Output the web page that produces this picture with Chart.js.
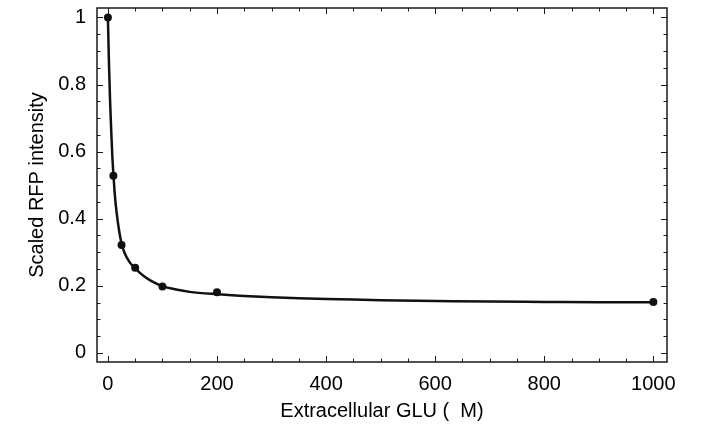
<!DOCTYPE html>
<html>
<head>
<meta charset="utf-8">
<script src="https://cdn.jsdelivr.net/npm/chart.js@4/dist/chart.umd.min.js"></script>
<style>
  html, body { margin: 0; padding: 0; background: #fff; }
  #wrap { width: 702px; height: 433px; }
</style>
</head>
<body>
<div id="wrap"><canvas id="c" width="702" height="433"></canvas></div>
<script>
// Measured glutamate concentrations (µM) and scaled RFP intensity
const concentrations = [0, 10, 25, 50, 100, 200, 1000];
const intensities = [1.0, 0.528, 0.322, 0.254, 0.198, 0.181, 0.152];

// Fitted response curve, sampled along the concentration axis
const fitX = [0, 2, 4, 6, 8, 10, 13, 16, 20, 25, 30, 40, 50, 65, 80, 100, 125, 150, 200, 250, 300, 350, 400, 450, 500, 600, 700, 800, 900, 1000];
const fitY = [1.0, 0.86, 0.75, 0.665, 0.59, 0.535, 0.465, 0.418, 0.37, 0.326, 0.30, 0.27, 0.252, 0.23, 0.214, 0.199, 0.189, 0.182, 0.175, 0.17, 0.166, 0.163, 0.161, 0.159, 0.157, 0.155, 0.153, 0.152, 0.151, 0.151];

// Axis tick labels and tick-mark positions
const xTickLabels = [0, 200, 400, 600, 800, 1000];
const yTickLabels = [0, 0.2, 0.4, 0.6, 0.8, 1];
const xTickMarks = [0, 50, 100, 150, 200, 250, 300, 350, 400, 450, 500, 550, 600, 650, 700, 750, 800, 850, 900, 950, 1000];
const yTickMarks = [0, 0.05, 0.1, 0.15, 0.2, 0.25, 0.3, 0.35, 0.4, 0.45, 0.5, 0.55, 0.6, 0.65, 0.7, 0.75, 0.8, 0.85, 0.9, 0.95, 1];
const xMajor = 200;
const yMajor = 0.2;

const FONT = "'Liberation Sans', Arial, Helvetica, sans-serif";

// Box frame with inward tick marks on all four sides
const frameTicks = {
  id: 'frameTicks',
  beforeDatasetsDraw(chart) {
    const { ctx, chartArea: a, scales: { x, y } } = chart;
    ctx.save();
    ctx.strokeStyle = '#1a1a1a';
    ctx.lineWidth = 1;
    const seg = (x1, y1, x2, y2) => { ctx.beginPath(); ctx.moveTo(x1, y1); ctx.lineTo(x2, y2); ctx.stroke(); };
    xTickMarks.forEach(v => {
      const px = Math.round(x.getPixelForValue(v)) + 0.5;
      const major = Math.abs(v / xMajor - Math.round(v / xMajor)) < 1e-6;
      const len = major ? 6 : 3.5;
      seg(px, a.bottom, px, a.bottom - len);
      seg(px, a.top, px, a.top + len);
    });
    yTickMarks.forEach(v => {
      const py = Math.round(y.getPixelForValue(v)) + 0.5;
      const major = Math.abs(v / yMajor - Math.round(v / yMajor)) < 1e-6;
      const len = major ? 6 : 3.5;
      seg(a.left, py, a.left + len, py);
      seg(a.right, py, a.right - len, py);
    });
    ctx.lineWidth = 1.5;
    ctx.strokeRect(a.left, a.top, a.right - a.left, a.bottom - a.top);
    ctx.restore();
  }
};

new Chart(document.getElementById('c'), {
  type: 'scatter',
  data: {
    datasets: [
      {
        label: 'fit',
        data: fitX.map((v, i) => ({ x: v, y: fitY[i] })),
        showLine: true,
        borderColor: '#111',
        borderWidth: 2.5,
        pointRadius: 0,
        cubicInterpolationMode: 'monotone',
        fill: false
      },
      {
        label: 'measured',
        data: concentrations.map((v, i) => ({ x: v, y: intensities[i] })),
        showLine: false,
        pointRadius: 4,
        pointBackgroundColor: '#111',
        pointBorderColor: '#111',
        pointBorderWidth: 0
      }
    ]
  },
  options: {
    responsive: false,
    animation: false,
    devicePixelRatio: 1,
    layout: { padding: { left: 0, right: 35, top: 8, bottom: 0 } },
    plugins: { legend: { display: false }, tooltip: { enabled: false } },
    scales: {
      x: {
        type: 'linear',
        min: -20,
        max: 1025,
        grid: { display: false, drawTicks: false },
        border: { display: false },
        afterBuildTicks: s => { s.ticks = xTickLabels.map(v => ({ value: v })); },
        afterFit: s => { s.height = 71; s.paddingLeft = 0; s.paddingRight = 0; },
        ticks: {
          padding: 10,
          color: '#000',
          font: { family: FONT, size: 20 },
          maxRotation: 0,
          callback: v => String(v)
        },
        title: {
          display: true,
          text: 'Extracellular GLU (  M)',
          color: '#000',
          font: { family: FONT, size: 20 },
          padding: { top: 0, bottom: 10 }
        }
      },
      y: {
        type: 'linear',
        min: -0.027,
        max: 1.028,
        grid: { display: false, drawTicks: false },
        border: { display: false },
        afterBuildTicks: s => { s.ticks = yTickLabels.map(v => ({ value: v })); },
        afterFit: s => { s.width = 97; s.paddingTop = 0; s.paddingBottom = 0; },
        ticks: {
          padding: 11,
          color: '#000',
          font: { family: FONT, size: 20 },
          callback: v => String(+Number(v).toFixed(2))
        },
        title: {
          display: true,
          text: 'Scaled RFP intensity',
          color: '#000',
          font: { family: FONT, size: 20 },
          padding: { top: 25, bottom: 0 }
        }
      }
    }
  },
  plugins: [frameTicks]
});
</script>
</body>
</html>
